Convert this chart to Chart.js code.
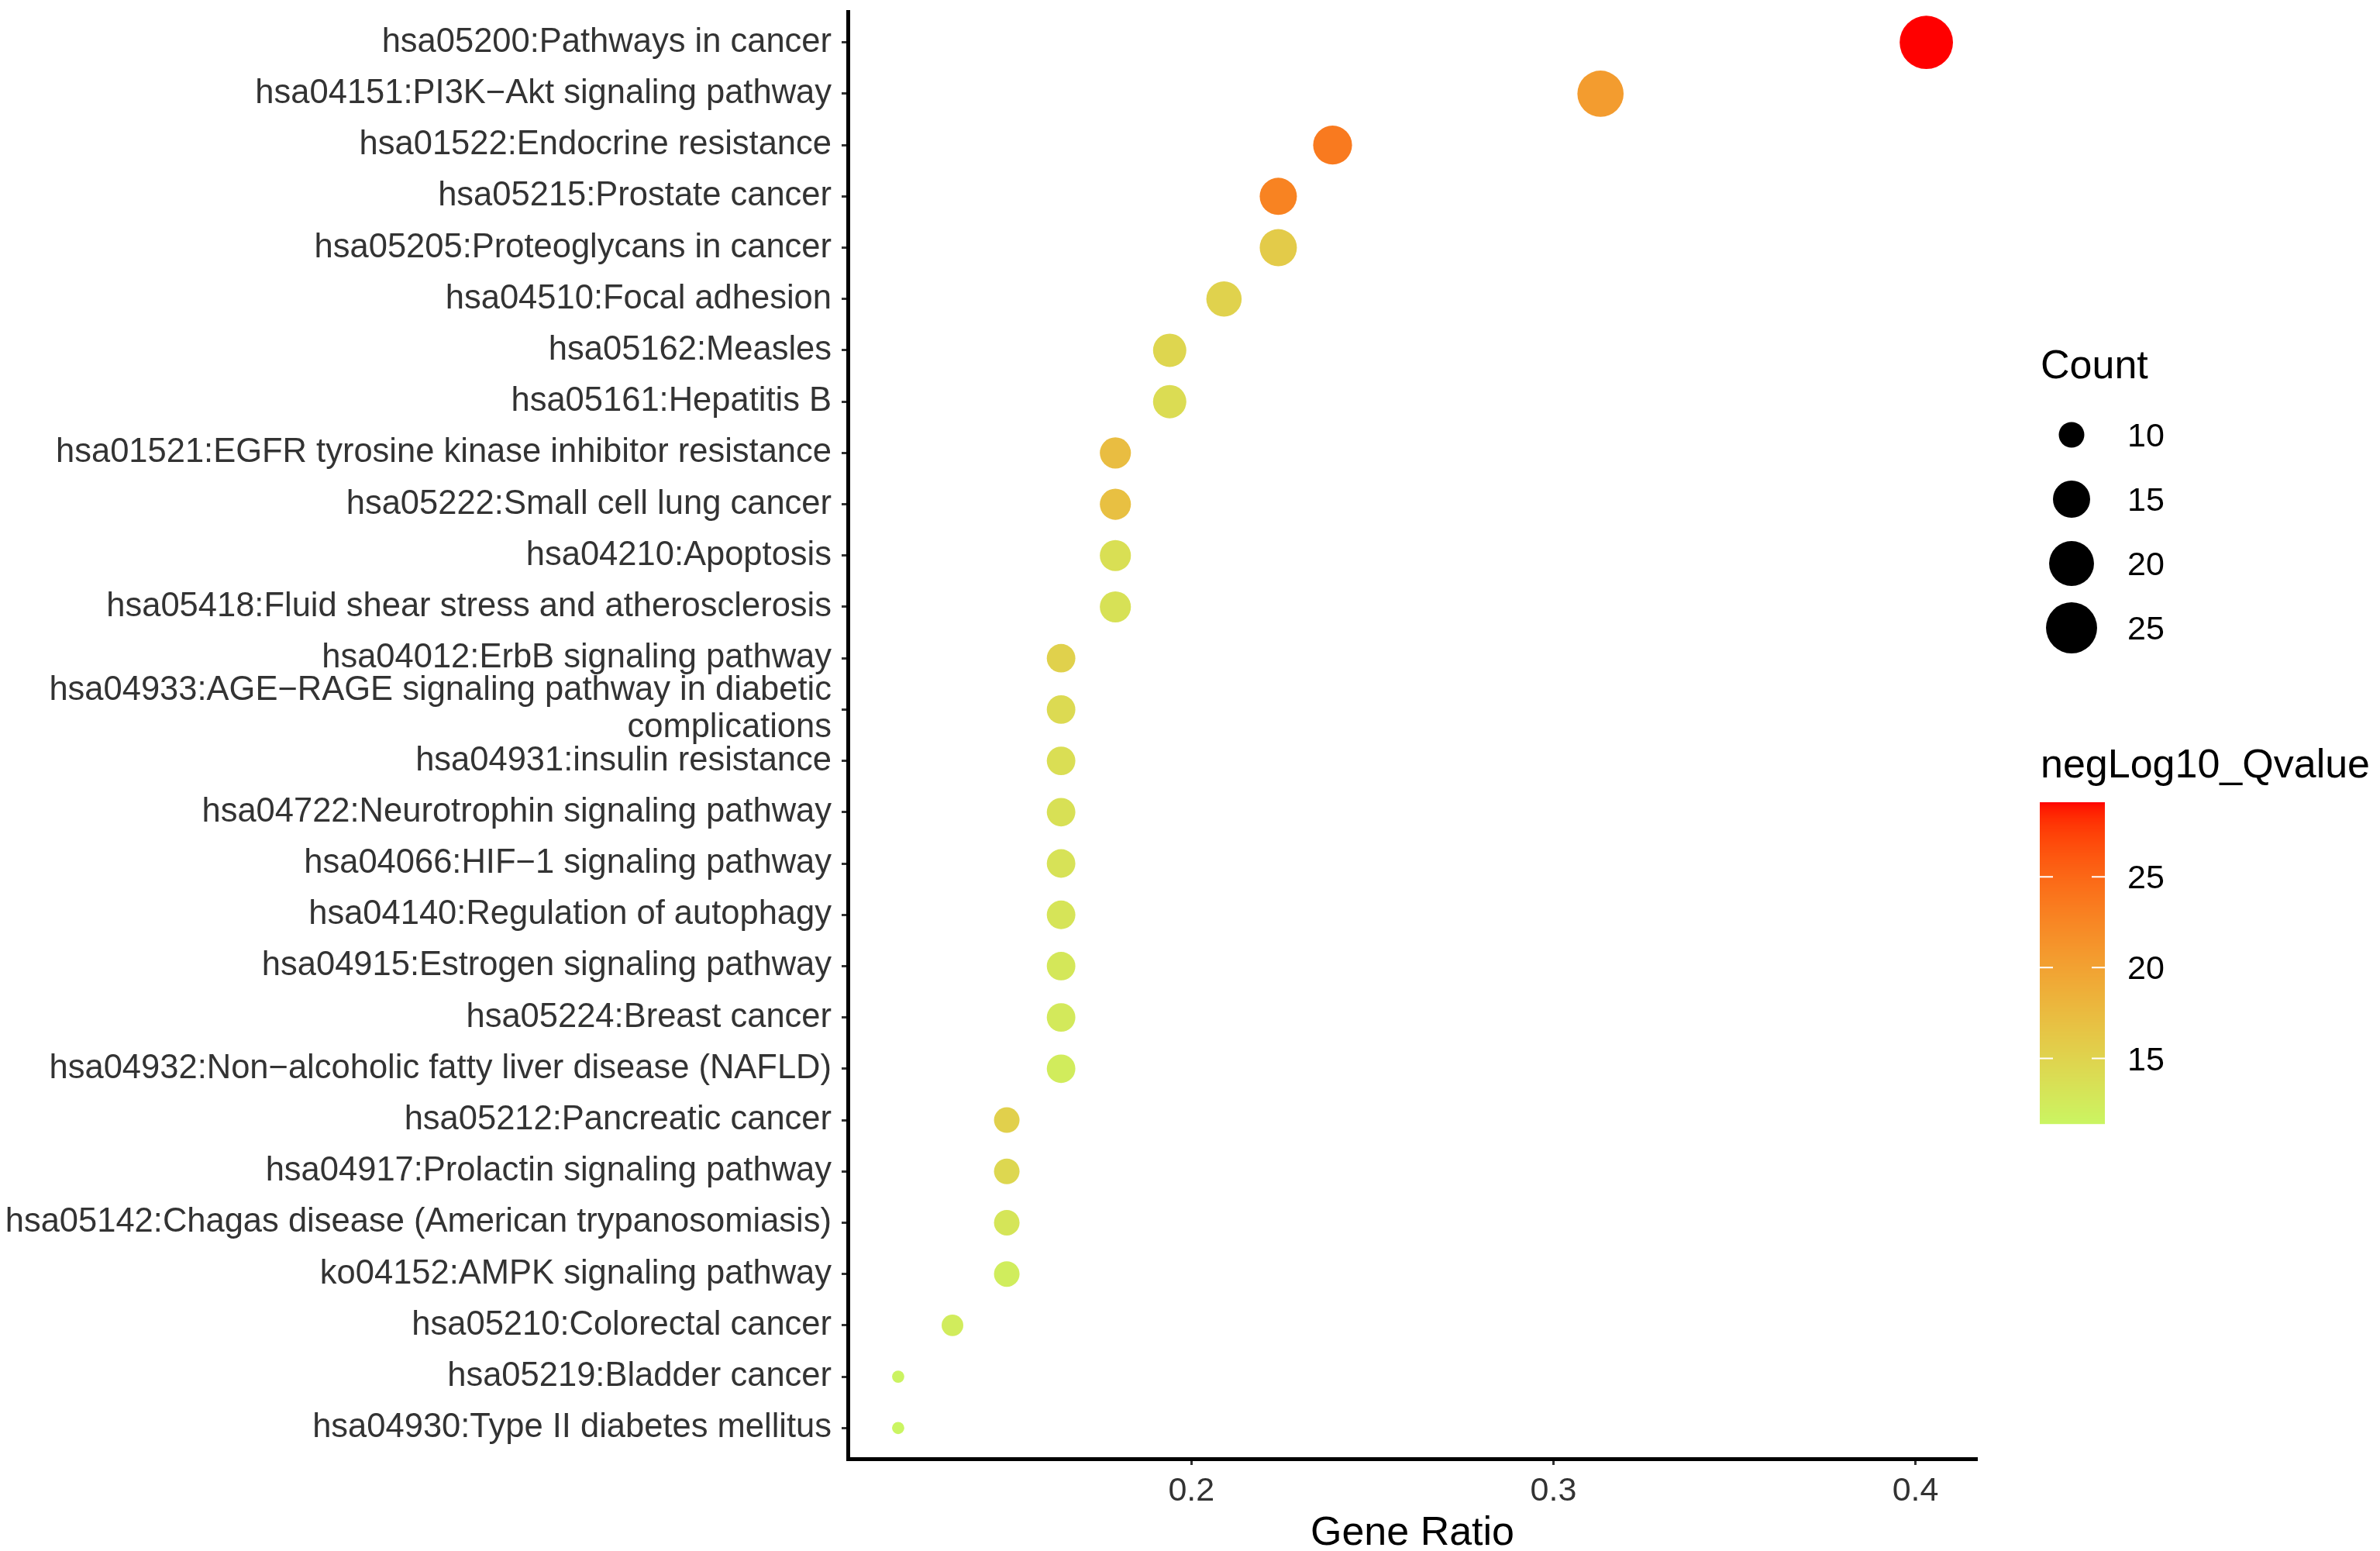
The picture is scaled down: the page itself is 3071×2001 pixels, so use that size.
<!DOCTYPE html>
<html>
<head>
<meta charset="utf-8">
<script src="https://cdn.jsdelivr.net/npm/chart.js@4.4.1/dist/chart.umd.min.js"></script>
<style>
  html, body { margin: 0; padding: 0; background: #fff; overflow: hidden; }
  #chart { display: block; }
</style>
</head>
<body>
<canvas id="chart" width="3071" height="2001" style="width:3071px;height:2001px"></canvas>
<script>
// KEGG pathways, top to bottom
const pathways = [
  "hsa05200:Pathways in cancer",
  "hsa04151:PI3K\u2212Akt signaling pathway",
  "hsa01522:Endocrine resistance",
  "hsa05215:Prostate cancer",
  "hsa05205:Proteoglycans in cancer",
  "hsa04510:Focal adhesion",
  "hsa05162:Measles",
  "hsa05161:Hepatitis B",
  "hsa01521:EGFR tyrosine kinase inhibitor resistance",
  "hsa05222:Small cell lung cancer",
  "hsa04210:Apoptosis",
  "hsa05418:Fluid shear stress and atherosclerosis",
  "hsa04012:ErbB signaling pathway",
  ["hsa04933:AGE\u2212RAGE signaling pathway in diabetic", "complications"],
  "hsa04931:insulin resistance",
  "hsa04722:Neurotrophin signaling pathway",
  "hsa04066:HIF\u22121 signaling pathway",
  "hsa04140:Regulation of autophagy",
  "hsa04915:Estrogen signaling pathway",
  "hsa05224:Breast cancer",
  "hsa04932:Non\u2212alcoholic fatty liver disease (NAFLD)",
  "hsa05212:Pancreatic cancer",
  "hsa04917:Prolactin signaling pathway",
  "hsa05142:Chagas disease (American trypanosomiasis)",
  "ko04152:AMPK signaling pathway",
  "hsa05210:Colorectal cancer",
  "hsa05219:Bladder cancer",
  "hsa04930:Type II diabetes mellitus"
];

const geneRatio = [0.403, 0.313, 0.239, 0.224, 0.224, 0.209, 0.194, 0.194,
  0.179, 0.179, 0.179, 0.179, 0.164, 0.164, 0.164, 0.164, 0.164, 0.164,
  0.164, 0.164, 0.164, 0.149, 0.149, 0.149, 0.149, 0.134, 0.119, 0.119];

const geneCount = [27, 21, 16, 15, 15, 14, 13, 13, 12, 12, 12, 12,
  11, 11, 11, 11, 11, 11, 11, 11, 11, 10, 10, 10, 10, 9, 8, 8];

const negLog10Q = [29.1, 20.5, 23.5, 22.8, 15.9, 15.1, 14.7, 14.1,
  17.3, 17.0, 13.8, 13.5, 15.2, 14.3, 13.9, 13.6, 13.4, 13.2,
  12.9, 12.7, 12.4, 15.3, 14.6, 13.1, 12.3, 12.4, 11.6, 11.4];

const ratioTicks = [0.2, 0.3, 0.4];
const countKeys = [10, 15, 20, 25];
const qTicks = [15, 20, 25];

const FONT = '"Liberation Sans", Arial, Helvetica, sans-serif';

// --- colour scale (Lab interpolation, like ggplot's gradient) ---
const lowColor = "#CAF562";
const highColor = "#FF0000";

function hexToRgb(h) {
  return [parseInt(h.slice(1, 3), 16), parseInt(h.slice(3, 5), 16), parseInt(h.slice(5, 7), 16)];
}
function rgbToLab(rgb) {
  const lin = rgb.map(c => { c /= 255; return c <= 0.04045 ? c / 12.92 : Math.pow((c + 0.055) / 1.055, 2.4); });
  let X = (0.4124 * lin[0] + 0.3576 * lin[1] + 0.1805 * lin[2]) / 0.95047;
  let Y = (0.2126 * lin[0] + 0.7152 * lin[1] + 0.0722 * lin[2]);
  let Z = (0.0193 * lin[0] + 0.1192 * lin[1] + 0.9505 * lin[2]) / 1.08883;
  const f = t => t > 0.008856 ? Math.cbrt(t) : 7.787 * t + 16 / 116;
  const fx = f(X), fy = f(Y), fz = f(Z);
  return [116 * fy - 16, 500 * (fx - fy), 200 * (fy - fz)];
}
function labToRgb(lab) {
  const fy = (lab[0] + 16) / 116, fx = fy + lab[1] / 500, fz = fy - lab[2] / 200;
  const inv = t => t * t * t > 0.008856 ? t * t * t : (t - 16 / 116) / 7.787;
  const X = inv(fx) * 0.95047, Y = inv(fy), Z = inv(fz) * 1.08883;
  const r = 3.2406 * X - 1.5372 * Y - 0.4986 * Z;
  const g = -0.9689 * X + 1.8758 * Y + 0.0415 * Z;
  const b = 0.0557 * X - 0.2040 * Y + 1.0570 * Z;
  return [r, g, b].map(c => {
    c = c <= 0.0031308 ? 12.92 * c : 1.055 * Math.pow(c, 1 / 2.4) - 0.055;
    return Math.round(Math.max(0, Math.min(1, c)) * 255);
  });
}
const labLow = rgbToLab(hexToRgb(lowColor));
const labHigh = rgbToLab(hexToRgb(highColor));
const qMin = Math.min(...negLog10Q);
const qMax = Math.max(...negLog10Q);

function qColor(q) {
  const t = Math.max(0, Math.min(1, (q - qMin) / (qMax - qMin)));
  const lab = labLow.map((v, i) => v + (labHigh[i] - v) * t);
  const c = labToRgb(lab);
  return `rgb(${c[0]},${c[1]},${c[2]})`;
}

// --- size scale (area-like, as ggplot scale_size) ---
const cMin = Math.min(...geneCount);
const cMax = Math.max(...geneCount);
function countRadius(c) {
  const s = 1 + 5 * Math.sqrt((c - cMin) / (cMax - cMin));
  return (10.6 * s + 5.2) / 2;
}

const points = geneRatio.map((r, i) => ({ x: r, y: i }));

// legends drawn to the right of the plot
const legendPlugin = {
  id: "sideLegends",
  afterDraw(chart) {
    const ctx = chart.ctx;
    ctx.save();
    ctx.textAlign = "left";
    ctx.textBaseline = "alphabetic";
    ctx.fillStyle = "#000";

    // Count legend
    ctx.font = `52px ${FONT}`;
    ctx.fillText("Count", 2633, 488);
    ctx.font = `43px ${FONT}`;
    countKeys.forEach((k, i) => {
      const cy = 561 + i * 83;
      ctx.beginPath();
      ctx.arc(2673, cy, countRadius(k), 0, Math.PI * 2);
      ctx.fillStyle = "#000";
      ctx.fill();
      ctx.fillText(String(k), 2745, cy + 15);
    });

    // colour bar
    ctx.font = `52px ${FONT}`;
    ctx.fillText("negLog10_Qvalue", 2633, 1003);
    const bx = 2632, bw = 84, top = 1035, bottom = 1450;
    for (let y = top; y < bottom; y++) {
      const q = qMax - (y - top + 0.5) / (bottom - top) * (qMax - qMin);
      ctx.fillStyle = qColor(q);
      ctx.fillRect(bx, y, bw, 1.2);
    }
    ctx.font = `43px ${FONT}`;
    qTicks.forEach(q => {
      const y = top + (qMax - q) / (qMax - qMin) * (bottom - top);
      ctx.strokeStyle = "#fff";
      ctx.lineWidth = 2;
      ctx.beginPath();
      ctx.moveTo(bx, y); ctx.lineTo(bx + 17, y);
      ctx.moveTo(bx + bw - 17, y); ctx.lineTo(bx + bw, y);
      ctx.stroke();
      ctx.fillStyle = "#000";
      ctx.fillText(String(q), 2745, y + 15);
    });
    ctx.restore();
  }
};

new Chart(document.getElementById("chart"), {
  type: "scatter",
  data: {
    datasets: [{
      data: points,
      pointRadius: geneCount.map(countRadius),
      pointHoverRadius: geneCount.map(countRadius),
      pointBackgroundColor: negLog10Q.map(qColor),
      pointBorderWidth: 0,
      borderWidth: 0,
      clip: false
    }]
  },
  options: {
    responsive: false,
    devicePixelRatio: 1,
    animation: false,
    layout: { autoPadding: false, padding: { top: 15, right: 520, left: 0, bottom: 0 } },
    plugins: {
      legend: { display: false },
      tooltip: { enabled: false }
    },
    scales: {
      x: {
        type: "linear",
        min: 0.1051,
        max: 0.417,
        afterBuildTicks: axis => { axis.ticks = ratioTicks.map(v => ({ value: v })); },
        afterFit: axis => { axis.height = 119; axis.paddingLeft = 0; axis.paddingRight = 0; },
        ticks: {
          callback: v => v.toFixed(1),
          color: "#333",
          font: { family: FONT, size: 43, lineHeight: 1.2 },
          padding: 8,
          maxRotation: 0
        },
        grid: { drawOnChartArea: false, drawTicks: true, tickLength: 8, tickWidth: 3, tickColor: "#333" },
        border: { display: true, color: "#000", width: 5 },
        title: {
          display: true,
          text: "Gene Ratio",
          color: "#000",
          font: { family: FONT, size: 52, lineHeight: 0.85 },
          padding: { top: 0, bottom: 0 }
        }
      },
      y: {
        type: "linear",
        min: -0.6,
        max: 27.6,
        reverse: true,
        afterBuildTicks: axis => { axis.ticks = pathways.map((_, i) => ({ value: i })); },
        afterFit: axis => { axis.width = 1094; axis.paddingTop = 0; axis.paddingBottom = 0; },
        ticks: {
          callback: v => pathways[v],
          color: "#333",
          font: { family: FONT, size: 43.5, lineHeight: 1.1 },
          padding: 13,
          autoSkip: false
        },
        grid: { drawOnChartArea: false, drawTicks: true, tickLength: 8, tickWidth: 3, tickColor: "#333" },
        border: { display: true, color: "#000", width: 5 }
      }
    }
  },
  plugins: [legendPlugin]
});
</script>
</body>
</html>
